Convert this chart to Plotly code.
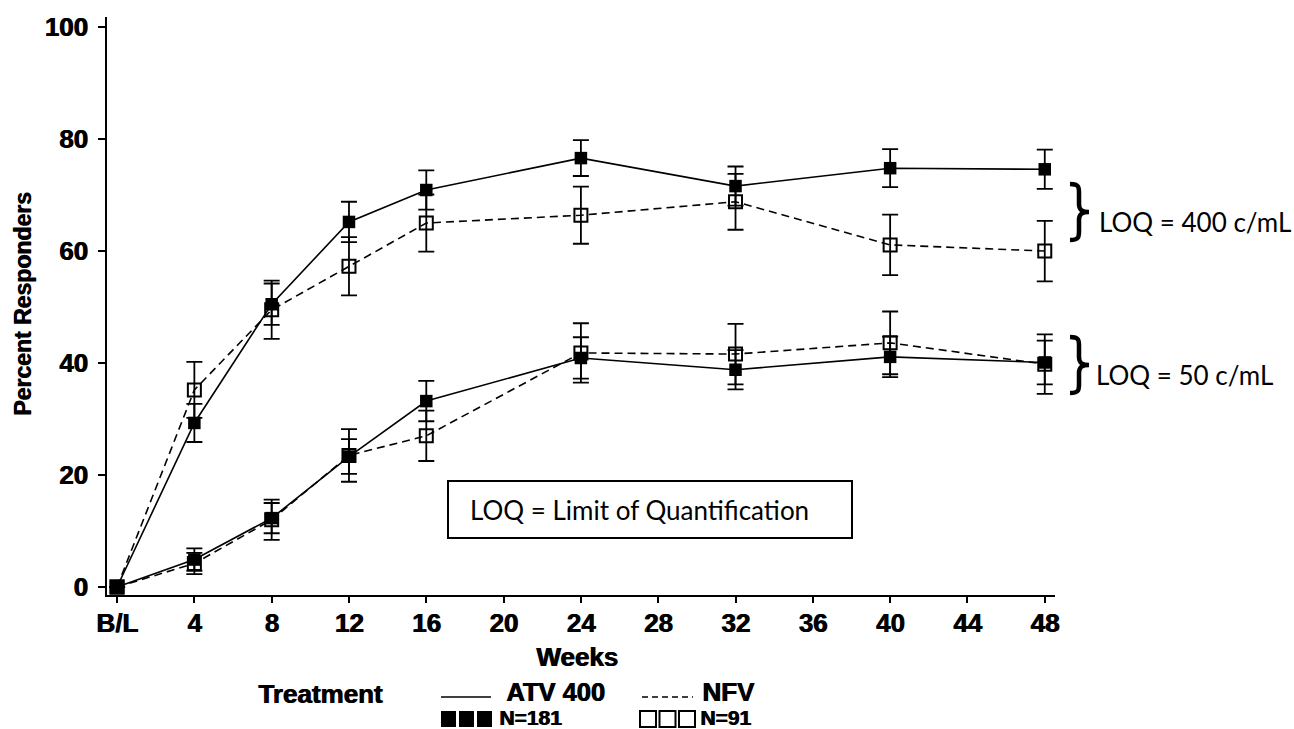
import plotly.graph_objects as go

# ---------------- data ----------------
weeks = [0, 4, 8, 12, 16, 24, 32, 40, 48]
tick_vals = [0, 4, 8, 12, 16, 20, 24, 28, 32, 36, 40, 44, 48]
tick_text = ["B/L", "4", "8", "12", "16", "20", "24", "28", "32", "36", "40", "44", "48"]
y_ticks = [0, 20, 40, 60, 80, 100]

# LOQ = 400 c/mL
atv_400 = [0, 29.3, 50.5, 65.2, 70.9, 76.6, 71.6, 74.8, 74.6]
atv_400_err = [0, 3.4, 3.7, 3.6, 3.5, 3.2, 3.5, 3.4, 3.5]
nfv_400 = [0, 35.2, 49.5, 57.3, 65.0, 66.4, 68.8, 61.1, 60.0]
nfv_400_err = [0, 5.0, 5.2, 5.2, 5.1, 5.1, 5.0, 5.4, 5.4]

# LOQ = 50 c/mL
atv_50 = [0, 4.9, 12.3, 23.3, 33.2, 40.9, 38.8, 41.1, 40.1]
atv_50_err = [0, 2.0, 2.7, 3.1, 3.6, 3.7, 3.5, 3.6, 3.9]
nfv_50 = [0, 4.2, 12.0, 23.5, 27.0, 41.8, 41.6, 43.6, 39.8]
nfv_50_err = [0, 1.9, 3.6, 4.7, 4.5, 5.3, 5.4, 5.6, 5.3]

# ---------------- geometry helpers (pixel -> paper) ----------------
L, R, T, B = 107, 1055, 17, 595
W, H = 1294, 729


def px(x):
    return (x - L) / (R - L)


def py(y):
    return (B - y) / (B - T)


HEAVY = "0.9px 0px 0px black"
BOLD = dict(family="Liberation Sans, Arial, sans-serif", color="black",
            weight="bold", shadow=HEAVY)
CAL = dict(family="Lato, Carlito, sans-serif", color="black")

fig = go.Figure()


def add_series(x, y, err, filled):
    if filled:
        marker = dict(symbol="square", size=12.5, color="black", line=dict(width=0))
        line = dict(color="black", width=1.6, dash="solid")
    else:
        marker = dict(symbol="square-open", size=13, color="black", line=dict(width=2))
        line = dict(color="black", width=1.6, dash="8px,5px")
    fig.add_trace(go.Scatter(
        x=x, y=y, mode="lines+markers", line=line, marker=marker,
        error_y=dict(type="data", array=err, visible=True, color="black",
                     thickness=1.8, width=8),
        showlegend=False, hoverinfo="x+y"))


add_series(weeks, nfv_400, nfv_400_err, False)
add_series(weeks, nfv_50, nfv_50_err, False)
add_series(weeks, atv_400, atv_400_err, True)
add_series(weeks, atv_50, atv_50_err, True)

shapes = []
annotations = []

# LOQ box
shapes.append(dict(type="rect", xref="paper", yref="paper",
                   x0=px(448), x1=px(852), y0=py(538), y1=py(481),
                   line=dict(color="black", width=2), fillcolor="white", layer="below"))
annotations.append(dict(text="LOQ = Limit of Quantification", xref="paper", yref="paper",
                        x=px(468), y=py(510), xanchor="left", yanchor="middle",
                        showarrow=False, font=dict(size=26, **CAL)))


# braces
def brace(top, bot, xl=1070, xs=1079, xr=1089):
    mid = (top + bot) / 2
    pts = [
        ("M", [(xl, top)]),
        ("C", [(xs + 1, top), (xs, top + 4), (xs, top + 12)]),
        ("L", [(xs, mid - 8)]),
        ("C", [(xs, mid - 2), (xs + 3, mid), (xr, mid)]),
        ("C", [(xs + 3, mid), (xs, mid + 2), (xs, mid + 8)]),
        ("L", [(xs, bot - 12)]),
        ("C", [(xs, bot - 4), (xs + 1, bot), (xl, bot)]),
    ]
    s = ""
    for cmd, ps in pts:
        s += cmd + " " + " ".join(f"{px(a):.5f},{py(b):.5f}" for a, b in ps) + " "
    return dict(type="path", xref="paper", yref="paper", path=s.strip(),
                line=dict(color="black", width=4.5))


shapes.append(brace(184, 240))
shapes.append(brace(337, 393))
annotations.append(dict(text="LOQ = 400 c/mL", xref="paper", yref="paper",
                        x=px(1097), y=py(222), xanchor="left", yanchor="middle",
                        showarrow=False, font=dict(size=26, **CAL)))
annotations.append(dict(text="LOQ = 50 c/mL", xref="paper", yref="paper",
                        x=px(1094), y=py(375), xanchor="left", yanchor="middle",
                        showarrow=False, font=dict(size=26, **CAL)))

# axis titles
annotations.append(dict(text="Percent Responders", xref="paper", yref="paper",
                        x=px(23), y=py(304), xanchor="center", yanchor="middle",
                        textangle=-90, showarrow=False, font=dict(size=23, **BOLD)))
annotations.append(dict(text="Weeks", xref="paper", yref="paper",
                        x=px(577), y=py(657), xanchor="center", yanchor="middle",
                        showarrow=False, font=dict(size=26, **BOLD)))

# custom legend
annotations.append(dict(text="Treatment", xref="paper", yref="paper",
                        x=px(256), y=py(694), xanchor="left", yanchor="middle",
                        showarrow=False, font=dict(size=26, **BOLD)))
shapes.append(dict(type="line", xref="paper", yref="paper",
                   x0=px(441), x1=px(491), y0=py(697), y1=py(697),
                   line=dict(color="black", width=1.6)))
annotations.append(dict(text="ATV 400", xref="paper", yref="paper",
                        x=px(504), y=py(692), xanchor="left", yanchor="middle",
                        showarrow=False, font=dict(size=25.5, **BOLD)))
shapes.append(dict(type="line", xref="paper", yref="paper",
                   x0=px(642), x1=px(693), y0=py(697), y1=py(697),
                   line=dict(color="black", width=1.6, dash="6px,4px")))
annotations.append(dict(text="NFV", xref="paper", yref="paper",
                        x=px(700), y=py(692), xanchor="left", yanchor="middle",
                        showarrow=False, font=dict(size=26, **BOLD)))
for i in range(3):
    x0 = 441 + 18 * i
    shapes.append(dict(type="rect", xref="paper", yref="paper",
                       x0=px(x0), x1=px(x0 + 15), y0=py(727), y1=py(711),
                       line=dict(width=0), fillcolor="black"))
    x0 = 640 + 19.5 * i
    shapes.append(dict(type="rect", xref="paper", yref="paper",
                       x0=px(x0), x1=px(x0 + 16), y0=py(727), y1=py(711),
                       line=dict(color="black", width=2), fillcolor="rgba(0,0,0,0)"))
annotations.append(dict(text="N=181", xref="paper", yref="paper",
                        x=px(497), y=py(717), xanchor="left", yanchor="middle",
                        showarrow=False, font=dict(size=21, **BOLD)))
annotations.append(dict(text="N=91", xref="paper", yref="paper",
                        x=px(698), y=py(717), xanchor="left", yanchor="middle",
                        showarrow=False, font=dict(size=21, **BOLD)))

fig.update_layout(
    width=W, height=H,
    margin=dict(l=L, r=W - R, t=T, b=H - B, pad=0),
    paper_bgcolor="white", plot_bgcolor="white",
    shapes=shapes, annotations=annotations,
    xaxis=dict(range=[-0.52, 48.53], tickvals=tick_vals, ticktext=tick_text,
               showline=True, linecolor="black", linewidth=2,
               ticks="outside", ticklen=6, tickwidth=2, tickcolor="black",
               showgrid=False, zeroline=False, ticklabelstandoff=-2,
               tickfont=dict(size=26, **BOLD)),
    yaxis=dict(range=[-1.43, 101.8], tickvals=y_ticks,
               showline=True, linecolor="black", linewidth=2,
               ticks="outside", ticklen=7, tickwidth=2, tickcolor="black",
               showgrid=False, zeroline=False, ticklabelstandoff=5,
               tickfont=dict(size=26, **BOLD)),
)

fig.write_html("out.html", config={"displayModeBar": False},
               post_script="document.body.style.margin='0';document.body.style.overflow='hidden';")
